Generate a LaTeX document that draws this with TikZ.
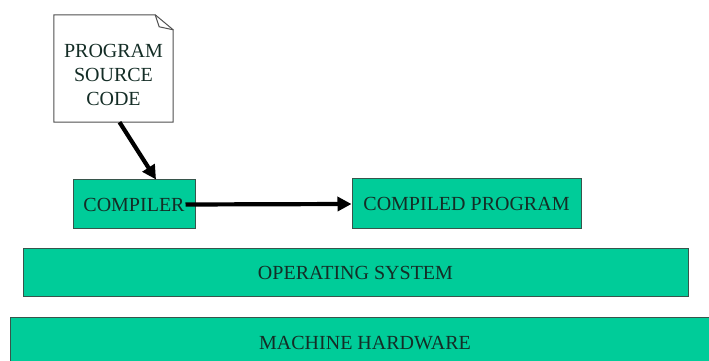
\documentclass[tikz,border=0pt]{standalone}
\usepackage{fontspec}
\setmainfont{Liberation Serif}
\usetikzlibrary{arrows.meta}
\definecolor{layergreen}{RGB}{0,204,153}
\definecolor{edgegray}{RGB}{55,85,75}
\definecolor{filegray}{RGB}{80,80,80}
\definecolor{labeldark}{RGB}{20,45,38}

\begin{document}
\begin{tikzpicture}[x=1pt, y=1pt, font=\fontsize{20}{24}\selectfont, text=labeldark,
  layer/.style={draw=edgegray, line width=1pt, fill=layergreen, rectangle, inner sep=0pt},
  flow/.style={line width=4.2pt, -{Triangle[length=14pt,width=14pt]}}]
  \useasboundingbox (0,0) rectangle (709,361);

  % Source file
  \node[minimum width=119pt, minimum height=107pt, inner sep=0pt] (src) at (113.5,292.5) {};
  \draw[filegray, line width=1pt, fill=white] (src.south west) -- (src.north west) -- ([xshift=-18pt]src.north east)
    -- ([yshift=-15pt]src.north east) -- (src.south east) -- cycle;
  \draw[filegray, line width=1pt] ([xshift=-18pt]src.north east) -- ([xshift=-14pt,yshift=-12pt]src.north east)
    -- ([yshift=-15pt]src.north east);
  \node[align=center] (srctext) at ([yshift=-6pt]src.center) {PROGRAM\\SOURCE\\CODE};

  % Programs
  \node[layer, minimum width=122pt, minimum height=49pt] (comp) at (134,156.5) {COMPILER};
  \node[layer, minimum width=229pt, minimum height=50pt] (prog) at (466.5,157) {COMPILED PROGRAM};

  % Layers below
  \node[layer, minimum width=665pt, minimum height=48pt] (os) at (355.5,88) {OPERATING SYSTEM};
  \node[layer, minimum width=710pt, minimum height=50pt] (hw) at (365,18) {MACHINE HARDWARE};

  \draw[flow] ([xshift=6pt]src.south) -- ([xshift=22pt]comp.north);
  \draw[flow] ([xshift=-10pt]comp.east) -- (prog.west);
\end{tikzpicture}
\end{document}
